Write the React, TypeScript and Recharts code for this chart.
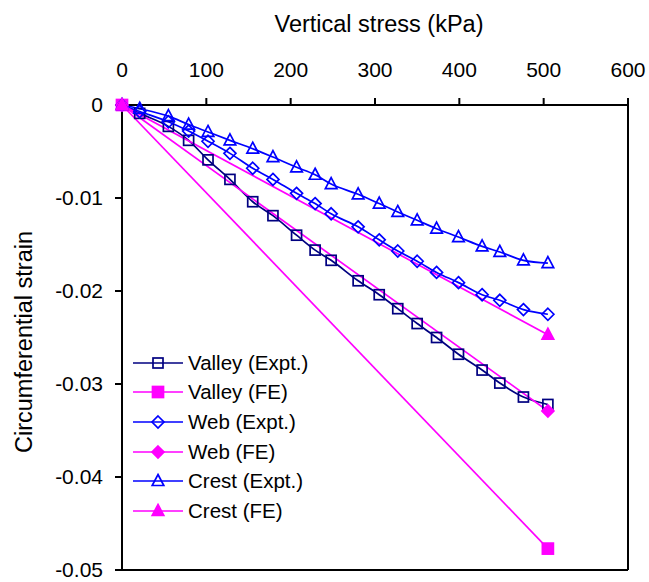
import React from "react";
import { LineChart, Line, XAxis, YAxis, ReferenceLine } from "recharts";

// stress steps (kPa) shared by the three experimental series
const stress = [0, 21, 55, 79, 102, 128, 155, 179, 207, 229, 248, 280, 305, 327, 350, 373, 399, 427, 448, 476, 505];
const valleyExpt = [0, -0.0009, -0.0023, -0.0038, -0.0059, -0.008, -0.0104, -0.0119, -0.014, -0.0156, -0.0167, -0.0189, -0.0204, -0.0219, -0.0235, -0.025, -0.0268, -0.0285, -0.0299, -0.0314, -0.0322];
const webExpt = [0, -0.0007, -0.0018, -0.0028, -0.0039, -0.0052, -0.0068, -0.008, -0.0095, -0.0106, -0.0117, -0.0131, -0.0145, -0.0157, -0.0168, -0.018, -0.0191, -0.0204, -0.021, -0.022, -0.0225];
const crestExpt = [0, -0.0004, -0.0012, -0.0021, -0.0029, -0.0038, -0.0047, -0.0056, -0.0067, -0.0075, -0.0085, -0.0096, -0.0106, -0.0115, -0.0124, -0.0133, -0.0142, -0.0152, -0.0158, -0.0167, -0.017];

// finite element predictions: straight lines to the final load
const feStress = [0, 505];
const valleyFE = [0, -0.0477];
const webFE = [0, -0.0329];
const crestFE = [0, -0.0247];

const xTicks = [0, 100, 200, 300, 400, 500, 600];
const yTicks = [0, -0.01, -0.02, -0.03, -0.04, -0.05];

const NAVY = "#000080";
const BLUE = "#0000FF";
const MAGENTA = "#FF00FF";
const FONT = "'Liberation Sans', Arial, sans-serif";

type Shape = "square" | "diamond" | "triangle";

const toPoints = (xs: number[], ys: number[]) => xs.map((x, i) => ({ x, y: ys[i] }));

const series = [
  { name: "Valley (Expt.)", data: toPoints(stress, valleyExpt), color: NAVY, shape: "square" as Shape, filled: false, smooth: true },
  { name: "Valley (FE)", data: toPoints(feStress, valleyFE), color: MAGENTA, shape: "square" as Shape, filled: true, smooth: false },
  { name: "Web (Expt.)", data: toPoints(stress, webExpt), color: BLUE, shape: "diamond" as Shape, filled: false, smooth: true },
  { name: "Web (FE)", data: toPoints(feStress, webFE), color: MAGENTA, shape: "diamond" as Shape, filled: true, smooth: false },
  { name: "Crest (Expt.)", data: toPoints(stress, crestExpt), color: BLUE, shape: "triangle" as Shape, filled: false, smooth: true },
  { name: "Crest (FE)", data: toPoints(feStress, crestFE), color: MAGENTA, shape: "triangle" as Shape, filled: true, smooth: false },
];

const Marker = ({ cx, cy, shape, color, filled }: { cx: number; cy: number; shape: Shape; color: string; filled: boolean }) => {
  const fill = filled ? color : "none";
  const sw = 1.7;
  if (shape === "square") {
    const s = filled ? 5.5 : 5;
    return <rect x={cx - s} y={cy - s} width={s * 2} height={s * 2} fill={fill} stroke={color} strokeWidth={sw} />;
  }
  if (shape === "diamond") {
    const s = 6;
    return (
      <polygon
        points={`${cx},${cy - s} ${cx + s},${cy} ${cx},${cy + s} ${cx - s},${cy}`}
        fill={fill}
        stroke={color}
        strokeWidth={sw}
      />
    );
  }
  const w = 5.8;
  return (
    <polygon
      points={`${cx},${cy - 6.5} ${cx + w},${cy + 4.5} ${cx - w},${cy + 4.5}`}
      fill={fill}
      stroke={color}
      strokeWidth={sw}
    />
  );
};

const LegendIcon = ({ shape, color, filled }: { shape: Shape; color: string; filled: boolean }) => (
  <svg width={50} height={20} style={{ display: "block" }}>
    <line x1={0} y1={10} x2={50} y2={10} stroke={color} strokeWidth={1.7} />
    <Marker cx={25} cy={10} shape={shape} color={color} filled={filled} />
  </svg>
);

const App: React.FC = () => {
  return (
    <div style={{ position: "absolute", left: 0, top: 0, width: 649, height: 582, background: "#fff", fontFamily: FONT }}>
      <LineChart width={649} height={582} margin={{ top: 65, right: 21, bottom: 12, left: 62 }}>
        <XAxis
          type="number"
          dataKey="x"
          orientation="top"
          domain={[0, 600]}
          ticks={xTicks}
          interval={0}
          height={40}
          tickSize={7}
          tickMargin={21}
          axisLine={{ stroke: "#000", strokeWidth: 2 }}
          tickLine={{ stroke: "#000", strokeWidth: 2 }}
          tick={{ fill: "#000", fontSize: 21, fontFamily: FONT }}
          label={() => (
            <text x={379} y={32} textAnchor="middle" fontSize={23.5} fontFamily={FONT} fill="#000">
              Vertical stress (kPa)
            </text>
          )}
        />
        <YAxis
          type="number"
          dataKey="y"
          domain={[-0.05, 0]}
          ticks={yTicks}
          interval={0}
          width={60}
          tickSize={7}
          tickMargin={12}
          axisLine={{ stroke: "#000", strokeWidth: 2 }}
          tickLine={{ stroke: "#000", strokeWidth: 2 }}
          tick={{ fill: "#000", fontSize: 21, fontFamily: FONT }}
          tickFormatter={(v: number) => (v === 0 ? "0" : String(v))}
          label={() => (
            <text
              x={32}
              y={342}
              transform="rotate(-90 32 342)"
              textAnchor="middle"
              fontSize={23.5}
              fontFamily={FONT}
              fill="#000"
            >
              Circumferential strain
            </text>
          )}
        />
        <ReferenceLine x={600} stroke="#000" strokeWidth={2} />
        <ReferenceLine y={-0.05} stroke="#000" strokeWidth={2} />
        {series.map((s) => (
          <Line
            key={s.name}
            data={s.data}
            dataKey="y"
            name={s.name}
            type={s.smooth ? "monotone" : "linear"}
            stroke={s.color}
            strokeWidth={1.7}
            isAnimationActive={false}
            activeDot={false}
            dot={(p: any) => (
              <Marker key={`${s.name}-${p.index}`} cx={p.cx} cy={p.cy} shape={s.shape} color={s.color} filled={s.filled} />
            )}
          />
        ))}
      </LineChart>
      <div style={{ position: "absolute", left: 133, top: 348, display: "flex", flexDirection: "column" }}>
        {series.map((s) => (
          <div key={s.name} style={{ display: "flex", alignItems: "center", height: 29.6 }}>
            <LegendIcon shape={s.shape} color={s.color} filled={s.filled} />
            <span style={{ marginLeft: 5, fontSize: 20.5, color: "#000", whiteSpace: "nowrap" }}>{s.name}</span>
          </div>
        ))}
      </div>
    </div>
  );
};

export default App;
